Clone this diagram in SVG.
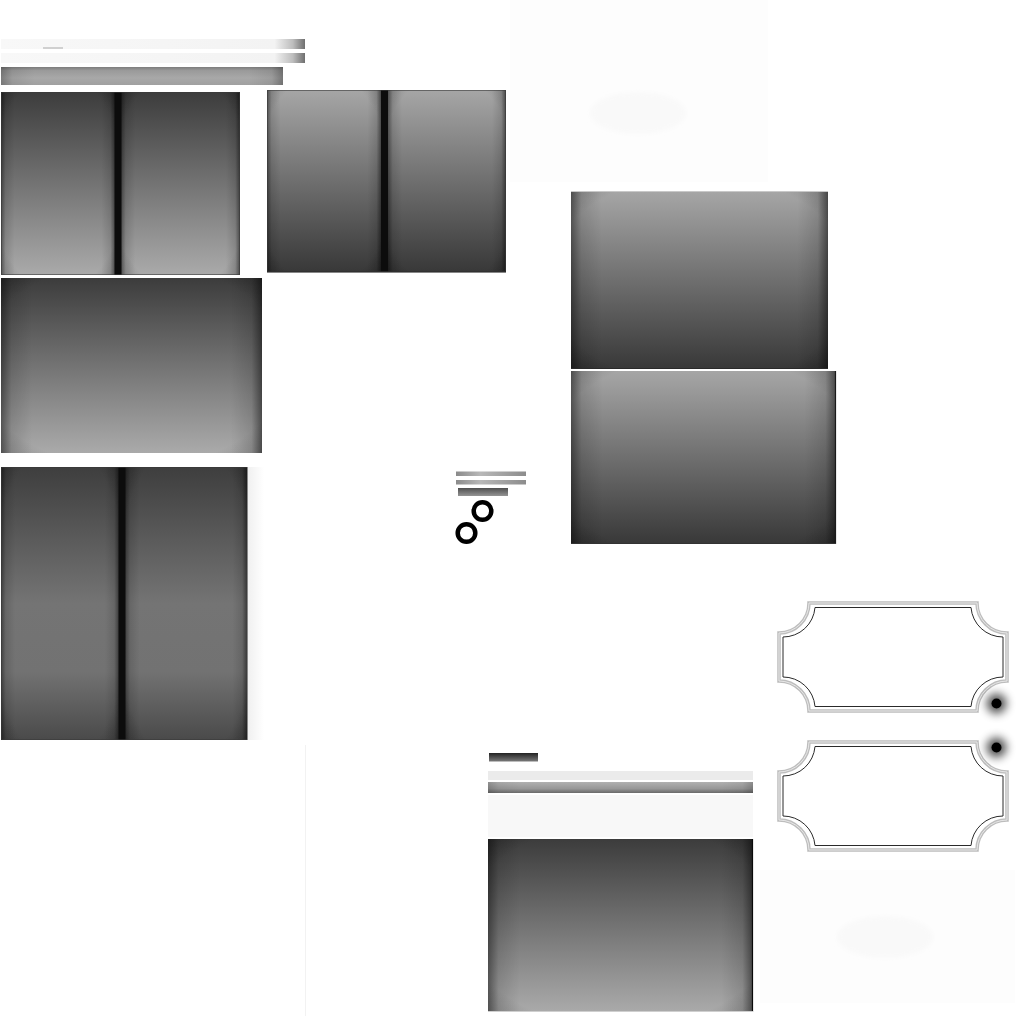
<svg xmlns="http://www.w3.org/2000/svg" width="1024" height="1024" viewBox="0 0 1024 1024">
<defs>
  <linearGradient id="gUp" x1="0" y1="0" x2="0" y2="1">
    <stop offset="0" stop-color="#3c3c3c"/>
    <stop offset="1" stop-color="#aaaaaa"/>
  </linearGradient>
  <linearGradient id="gDown" x1="0" y1="0" x2="0" y2="1">
    <stop offset="0" stop-color="#a6a6a6"/>
    <stop offset="1" stop-color="#383838"/>
  </linearGradient>
  <linearGradient id="gMid" x1="0" y1="0" x2="0" y2="1">
    <stop offset="0" stop-color="#3e3e3e"/>
    <stop offset="0.5" stop-color="#747474"/>
    <stop offset="0.75" stop-color="#727272"/>
    <stop offset="1" stop-color="#4a4a4a"/>
  </linearGradient>
  <linearGradient id="vig" x1="0" y1="0" x2="1" y2="0">
    <stop offset="0" stop-color="#000" stop-opacity="0.45"/>
    <stop offset="0.04" stop-color="#000" stop-opacity="0.12"/>
    <stop offset="0.12" stop-color="#000" stop-opacity="0"/>
    <stop offset="0.88" stop-color="#000" stop-opacity="0"/>
    <stop offset="0.96" stop-color="#000" stop-opacity="0.12"/>
    <stop offset="1" stop-color="#000" stop-opacity="0.5"/>
  </linearGradient>
  <radialGradient id="corner" cx="0.5" cy="0.5" r="0.72">
    <stop offset="0.82" stop-color="#000" stop-opacity="0"/>
    <stop offset="1" stop-color="#000" stop-opacity="0.18"/>
  </radialGradient>
  <linearGradient id="gBarLight" x1="0" y1="0" x2="1" y2="0">
    <stop offset="0" stop-color="#f8f8f8"/>
    <stop offset="0.9" stop-color="#f3f3f3"/>
    <stop offset="0.96" stop-color="#bdbdbd"/>
    <stop offset="1" stop-color="#6f6f6f"/>
  </linearGradient>
  <linearGradient id="gBarGray" x1="0" y1="0" x2="0" y2="1">
    <stop offset="0" stop-color="#7c7c7c"/>
    <stop offset="0.2" stop-color="#9a9a9a"/>
    <stop offset="0.6" stop-color="#a8a8a8"/>
    <stop offset="1" stop-color="#a0a0a0"/>
  </linearGradient>
  <linearGradient id="gSmallLine" x1="0" y1="0" x2="1" y2="0">
    <stop offset="0" stop-color="#8a8a8a"/>
    <stop offset="0.35" stop-color="#b8b8b8"/>
    <stop offset="1" stop-color="#8c8c8c"/>
  </linearGradient>
  <linearGradient id="gSmallDark" x1="0" y1="0" x2="0" y2="1">
    <stop offset="0" stop-color="#222"/>
    <stop offset="1" stop-color="#7a7a7a"/>
  </linearGradient>
  <linearGradient id="gMidBar" x1="0" y1="0" x2="0" y2="1">
    <stop offset="0" stop-color="#b0b0b0"/>
    <stop offset="0.6" stop-color="#979797"/>
    <stop offset="1" stop-color="#6a6a6a"/>
  </linearGradient>
  <linearGradient id="shadowR" x1="0" y1="0" x2="1" y2="0">
    <stop offset="0" stop-color="#f0f0f0"/>
    <stop offset="1" stop-color="#ffffff"/>
  </linearGradient>
  <filter id="blur" x="-1" y="-1" width="3" height="3">
    <feGaussianBlur stdDeviation="5"/>
  </filter>
  <filter id="soft" x="-0.2" y="-0.5" width="1.4" height="2">
    <feGaussianBlur stdDeviation="2"/>
  </filter>
</defs>
<style>
  .vig { fill: url(#vig); }
  .cor { fill: url(#corner); }
  .bar { fill: #0c0c0c; }
  .edge { fill: none; stroke: #3a3a3a; stroke-width: 1; stroke-opacity: 0.6; }
  .po { fill: none; stroke: #bdbdbd; stroke-width: 3.5; }
  .pw { fill: none; stroke: #e8e8e8; stroke-width: 1; }
  .pi { fill: none; stroke: #2a2a2a; stroke-width: 1; }
  .ring { fill: none; stroke: #000; stroke-width: 4.5; }
  .faint { fill: #fdfdfd; }
</style>
<rect width="1024" height="1024" fill="#fff"/>

<g id="background-faint">
  <rect class="faint" x="510" y="0" width="258" height="182"/>
  <ellipse cx="638" cy="113" rx="48" ry="21" fill="#f9f9f9" filter="url(#soft)"/>
  <rect class="faint" x="760" y="870" width="255" height="133"/>
  <ellipse cx="885" cy="937" rx="48" ry="21" fill="#f9f9f9" filter="url(#soft)"/>
  <line x1="305.5" y1="745" x2="305.5" y2="1016" stroke="#f2f2f2" stroke-width="1"/>
  <rect x="248" y="467" width="16" height="273" fill="url(#shadowR)"/>
</g>

<g id="top-bars">
  <rect x="1" y="39" width="304" height="10" fill="url(#gBarLight)"/>
  <rect x="43" y="47.5" width="20" height="1" fill="#aaa"/>
  <rect x="1" y="53" width="304" height="10" fill="url(#gBarLight)"/>
  <rect x="1" y="67" width="282" height="18" fill="url(#gBarGray)"/>
  <rect x="1" y="67" width="282" height="18" class="vig" opacity="0.6"/>
</g>

<g id="panel-a">
  <rect x="1" y="92" width="114" height="183" fill="url(#gUp)"/>
  <rect x="1" y="92" width="114" height="183" class="vig"/>
  <rect x="1" y="92" width="114" height="183" class="cor"/>
  <rect x="121" y="92" width="119" height="183" fill="url(#gUp)"/>
  <rect x="121" y="92" width="119" height="183" class="vig"/>
  <rect x="121" y="92" width="119" height="183" class="cor"/>
  <rect class="bar" x="114.5" y="92" width="7" height="183"/>
  <rect class="edge" x="1.5" y="92.5" width="238" height="182"/>
</g>

<g id="panel-b">
  <rect x="267" y="90" width="114" height="182" fill="url(#gDown)"/>
  <rect x="267" y="90" width="114" height="182" class="vig"/>
  <rect x="267" y="90" width="114" height="182" class="cor"/>
  <rect x="388" y="90" width="118" height="182" fill="url(#gDown)"/>
  <rect x="388" y="90" width="118" height="182" class="vig"/>
  <rect x="388" y="90" width="118" height="182" class="cor"/>
  <rect class="bar" x="381" y="90" width="7" height="182"/>
  <line x1="267" y1="272" x2="506" y2="272" stroke="#111" stroke-width="1.2"/>
  <rect class="edge" x="267.5" y="90.5" width="238" height="181"/>
</g>

<g id="panel-c">
  <rect x="1" y="278" width="261" height="175" fill="url(#gUp)"/>
  <rect x="1" y="278" width="261" height="175" class="vig"/>
  <rect x="1" y="278" width="261" height="175" class="cor"/>
</g>

<g id="panel-d">
  <rect x="1" y="467" width="118" height="273" fill="url(#gMid)"/>
  <rect x="1" y="467" width="118" height="273" class="vig"/>
  <rect x="1" y="467" width="118" height="273" class="cor"/>
  <rect x="125" y="467" width="122" height="273" fill="url(#gMid)"/>
  <rect x="125" y="467" width="122" height="273" class="vig"/>
  <rect x="125" y="467" width="122" height="273" class="cor"/>
  <rect class="bar" x="118.5" y="467" width="7" height="273"/>
  <rect class="edge" x="1.5" y="467.5" width="246" height="272"/>
</g>

<g id="panel-e">
  <rect x="571" y="191" width="257" height="178" fill="url(#gDown)"/>
  <rect x="571" y="191" width="257" height="178" class="vig"/>
  <rect x="571" y="191" width="257" height="178" class="cor"/>
  <line x1="571" y1="191.5" x2="828" y2="191.5" stroke="#c8c8c8" stroke-width="1"/>
  <line x1="571" y1="368.5" x2="828" y2="368.5" stroke="#2a2a2a" stroke-width="1"/>
</g>

<g id="panel-f">
  <rect x="571" y="371" width="265" height="173" fill="url(#gDown)"/>
  <rect x="571" y="371" width="265" height="173" class="vig"/>
  <rect x="571" y="371" width="265" height="173" class="cor"/>
  <line x1="835.5" y1="371" x2="835.5" y2="544" stroke="#1a1a1a" stroke-width="1.2"/>
  <line x1="571" y1="543.5" x2="836" y2="543.5" stroke="#333" stroke-width="1"/>
</g>

<g id="small-icon">
  <rect x="456" y="471.5" width="70" height="4.5" fill="url(#gSmallLine)"/>
  <rect x="456" y="480" width="70" height="4.5" fill="url(#gSmallLine)"/>
  <rect x="458" y="488" width="50" height="8" fill="url(#gSmallDark)" opacity="0.8"/>
  <circle class="ring" cx="482.5" cy="511" r="8.8"/>
  <circle class="ring" cx="466.5" cy="533" r="8.8"/>
</g>

<g id="plaque-top">
  <path class="po" d="M809,603 H977 A30,30 0 0 0 1007,633 V681 A30,30 0 0 0 977,711 H809 A30,30 0 0 0 779,681 V633 A30,30 0 0 0 809,603 Z"/>
  <path class="pw" d="M809,603 H977 A30,30 0 0 0 1007,633 V681 A30,30 0 0 0 977,711 H809 A30,30 0 0 0 779,681 V633 A30,30 0 0 0 809,603 Z"/>
  <path class="pi" d="M815,607.5 H971 A32,32 0 0 0 1003,637 V677 A32,32 0 0 0 971,706.5 H815 A32,32 0 0 0 783,677 V637 A32,32 0 0 0 815,607.5 Z"/>
</g>

<g id="plaque-bottom">
  <path class="po" d="M809,742 H977 A30,30 0 0 0 1007,772 V820 A30,30 0 0 0 977,850 H809 A30,30 0 0 0 779,820 V772 A30,30 0 0 0 809,742 Z"/>
  <path class="pw" d="M809,742 H977 A30,30 0 0 0 1007,772 V820 A30,30 0 0 0 977,850 H809 A30,30 0 0 0 779,820 V772 A30,30 0 0 0 809,742 Z"/>
  <path class="pi" d="M815,746.5 H971 A32,32 0 0 0 1003,776 V816 A32,32 0 0 0 971,845.5 H815 A32,32 0 0 0 783,816 V776 A32,32 0 0 0 815,746.5 Z"/>
</g>

<g id="dots">
  <circle cx="996.5" cy="703.5" r="10" fill="#000" opacity="0.7" filter="url(#blur)"/>
  <circle cx="996.5" cy="703.5" r="5" fill="#000"/>
  <circle cx="996.5" cy="747.5" r="10" fill="#000" opacity="0.7" filter="url(#blur)"/>
  <circle cx="996.5" cy="747.5" r="5" fill="#000"/>
</g>

<g id="bottom-header">
  <rect x="489" y="753" width="49" height="8.5" fill="url(#gSmallDark)"/>
  <rect x="488" y="771" width="265" height="9" fill="#ebebeb"/>
  <rect x="488" y="782" width="265" height="11" fill="url(#gMidBar)"/>
  <rect x="488" y="782" width="265" height="11" class="vig" opacity="0.4"/>
  <rect x="488" y="795" width="265" height="42" fill="#f8f8f8"/>
</g>

<g id="panel-g">
  <rect x="488" y="839" width="265" height="173" fill="url(#gUp)"/>
  <rect x="488" y="839" width="265" height="173" class="vig"/>
  <rect x="488" y="839" width="265" height="173" class="cor"/>
  <line x1="752.5" y1="839" x2="752.5" y2="1012" stroke="#0a0a0a" stroke-width="1.2"/>
  <line x1="488" y1="1011.5" x2="753" y2="1011.5" stroke="#cfcfcf" stroke-width="1"/>
</g>
</svg>
